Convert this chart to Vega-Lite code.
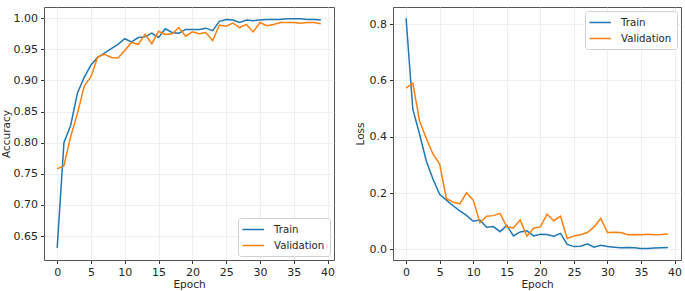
{
"$schema":"https://vega.github.io/schema/vega-lite/v6.json",
"background":"white",
"padding":{"left":0,"top":6,"right":4,"bottom":0},
"config":{
 "font":"DejaVu Sans",
 "view":{"stroke":"#555555","strokeWidth":1},
 "axis":{"domain":false,"gridColor":"#ebebeb","gridWidth":0.8,"tickColor":"#333333","tickSize":3.5,"labelFontSize":11,"labelColor":"#262626","labelPadding":3,"titleFontSize":10.5,"titleFontWeight":"normal","titleColor":"#262626","labelFont":"DejaVu Sans","titleFont":"DejaVu Sans"},
 "legend":{"labelFontSize":10.2,"labelFont":"DejaVu Sans","labelColor":"#262626","symbolType":"M-1.29,0H2.64","symbolSize":121,"symbolStrokeWidth":1.5,"strokeColor":"#d0d0d0","fillColor":"white","padding":5,"cornerRadius":3,"rowPadding":4,"labelOffset":18,"offset":4}
},
"data":{"values":[
{"epoch":0,"series":"Train","accuracy":0.631,"loss":0.821},
{"epoch":1,"series":"Train","accuracy":0.80,"loss":0.498},
{"epoch":2,"series":"Train","accuracy":0.828,"loss":0.41},
{"epoch":3,"series":"Train","accuracy":0.88,"loss":0.315},
{"epoch":4,"series":"Train","accuracy":0.905,"loss":0.25},
{"epoch":5,"series":"Train","accuracy":0.925,"loss":0.196},
{"epoch":6,"series":"Train","accuracy":0.937,"loss":0.175},
{"epoch":7,"series":"Train","accuracy":0.944,"loss":0.155},
{"epoch":8,"series":"Train","accuracy":0.951,"loss":0.137},
{"epoch":9,"series":"Train","accuracy":0.958,"loss":0.121},
{"epoch":10,"series":"Train","accuracy":0.967,"loss":0.10},
{"epoch":11,"series":"Train","accuracy":0.962,"loss":0.104},
{"epoch":12,"series":"Train","accuracy":0.969,"loss":0.079},
{"epoch":13,"series":"Train","accuracy":0.970,"loss":0.081},
{"epoch":14,"series":"Train","accuracy":0.976,"loss":0.063},
{"epoch":15,"series":"Train","accuracy":0.969,"loss":0.085},
{"epoch":16,"series":"Train","accuracy":0.983,"loss":0.048},
{"epoch":17,"series":"Train","accuracy":0.977,"loss":0.062},
{"epoch":18,"series":"Train","accuracy":0.976,"loss":0.066},
{"epoch":19,"series":"Train","accuracy":0.982,"loss":0.048},
{"epoch":20,"series":"Train","accuracy":0.982,"loss":0.054},
{"epoch":21,"series":"Train","accuracy":0.982,"loss":0.053},
{"epoch":22,"series":"Train","accuracy":0.984,"loss":0.047},
{"epoch":23,"series":"Train","accuracy":0.980,"loss":0.057},
{"epoch":24,"series":"Train","accuracy":0.995,"loss":0.018},
{"epoch":25,"series":"Train","accuracy":0.998,"loss":0.01},
{"epoch":26,"series":"Train","accuracy":0.997,"loss":0.011},
{"epoch":27,"series":"Train","accuracy":0.993,"loss":0.02},
{"epoch":28,"series":"Train","accuracy":0.997,"loss":0.008},
{"epoch":29,"series":"Train","accuracy":0.996,"loss":0.015},
{"epoch":30,"series":"Train","accuracy":0.997,"loss":0.01},
{"epoch":31,"series":"Train","accuracy":0.998,"loss":0.008},
{"epoch":32,"series":"Train","accuracy":0.998,"loss":0.006},
{"epoch":33,"series":"Train","accuracy":0.998,"loss":0.007},
{"epoch":34,"series":"Train","accuracy":0.999,"loss":0.006},
{"epoch":35,"series":"Train","accuracy":0.999,"loss":0.003},
{"epoch":36,"series":"Train","accuracy":0.999,"loss":0.003},
{"epoch":37,"series":"Train","accuracy":0.998,"loss":0.005},
{"epoch":38,"series":"Train","accuracy":0.998,"loss":0.006},
{"epoch":39,"series":"Train","accuracy":0.997,"loss":0.007},
{"epoch":0,"series":"Validation","accuracy":0.758,"loss":0.573},
{"epoch":1,"series":"Validation","accuracy":0.763,"loss":0.591},
{"epoch":2,"series":"Validation","accuracy":0.81,"loss":0.457},
{"epoch":3,"series":"Validation","accuracy":0.847,"loss":0.395},
{"epoch":4,"series":"Validation","accuracy":0.891,"loss":0.339},
{"epoch":5,"series":"Validation","accuracy":0.906,"loss":0.303},
{"epoch":6,"series":"Validation","accuracy":0.938,"loss":0.181},
{"epoch":7,"series":"Validation","accuracy":0.942,"loss":0.168},
{"epoch":8,"series":"Validation","accuracy":0.937,"loss":0.162},
{"epoch":9,"series":"Validation","accuracy":0.936,"loss":0.201},
{"epoch":10,"series":"Validation","accuracy":0.948,"loss":0.175},
{"epoch":11,"series":"Validation","accuracy":0.961,"loss":0.095},
{"epoch":12,"series":"Validation","accuracy":0.958,"loss":0.118},
{"epoch":13,"series":"Validation","accuracy":0.974,"loss":0.12},
{"epoch":14,"series":"Validation","accuracy":0.959,"loss":0.128},
{"epoch":15,"series":"Validation","accuracy":0.979,"loss":0.08},
{"epoch":16,"series":"Validation","accuracy":0.974,"loss":0.076},
{"epoch":17,"series":"Validation","accuracy":0.975,"loss":0.105},
{"epoch":18,"series":"Validation","accuracy":0.985,"loss":0.047},
{"epoch":19,"series":"Validation","accuracy":0.971,"loss":0.075},
{"epoch":20,"series":"Validation","accuracy":0.978,"loss":0.08},
{"epoch":21,"series":"Validation","accuracy":0.975,"loss":0.125},
{"epoch":22,"series":"Validation","accuracy":0.977,"loss":0.102},
{"epoch":23,"series":"Validation","accuracy":0.964,"loss":0.118},
{"epoch":24,"series":"Validation","accuracy":0.989,"loss":0.039},
{"epoch":25,"series":"Validation","accuracy":0.987,"loss":0.048},
{"epoch":26,"series":"Validation","accuracy":0.992,"loss":0.052},
{"epoch":27,"series":"Validation","accuracy":0.985,"loss":0.06},
{"epoch":28,"series":"Validation","accuracy":0.990,"loss":0.08},
{"epoch":29,"series":"Validation","accuracy":0.978,"loss":0.11},
{"epoch":30,"series":"Validation","accuracy":0.993,"loss":0.06},
{"epoch":31,"series":"Validation","accuracy":0.988,"loss":0.061},
{"epoch":32,"series":"Validation","accuracy":0.990,"loss":0.06},
{"epoch":33,"series":"Validation","accuracy":0.993,"loss":0.052},
{"epoch":34,"series":"Validation","accuracy":0.993,"loss":0.053},
{"epoch":35,"series":"Validation","accuracy":0.993,"loss":0.052},
{"epoch":36,"series":"Validation","accuracy":0.992,"loss":0.054},
{"epoch":37,"series":"Validation","accuracy":0.993,"loss":0.052},
{"epoch":38,"series":"Validation","accuracy":0.993,"loss":0.053},
{"epoch":39,"series":"Validation","accuracy":0.991,"loss":0.055}
]},
"spacing":18,
"resolve":{"legend":{"color":"independent"}},
"hconcat":[
{
 "width":290,"height":253,
 "mark":{"type":"line","strokeWidth":1.5,"clip":true},
 "encoding":{
  "x":{"field":"epoch","type":"quantitative","title":"Epoch","scale":{"domain":[-1.95,40.95],"nice":false,"zero":false},"axis":{"values":[0,5,10,15,20,25,30,35,40],"titlePadding":2}},
  "y":{"field":"accuracy","type":"quantitative","title":"Accuracy","scale":{"domain":[0.6115,1.018],"nice":false,"zero":false},"axis":{"values":[0.65,0.70,0.75,0.80,0.85,0.90,0.95,1.00],"format":".2f","titlePadding":2}},
  "color":{"field":"series","type":"nominal","scale":{"domain":["Train","Validation"],"range":["#1f77b4","#ff7f0e"]},"legend":{"title":null,"orient":"bottom-right"}}
 }
},
{
 "width":288,"height":253,
 "mark":{"type":"line","strokeWidth":1.5,"clip":true},
 "encoding":{
  "x":{"field":"epoch","type":"quantitative","title":"Epoch","scale":{"domain":[-1.95,40.95],"nice":false,"zero":false},"axis":{"values":[0,5,10,15,20,25,30,35,40],"titlePadding":2}},
  "y":{"field":"loss","type":"quantitative","title":"Loss","scale":{"domain":[-0.0376,0.861],"nice":false,"zero":false},"axis":{"values":[0,0.2,0.4,0.6,0.8],"format":".1f","titlePadding":4}},
  "color":{"field":"series","type":"nominal","scale":{"domain":["Train","Validation"],"range":["#1f77b4","#ff7f0e"]},"legend":{"title":null,"orient":"top-right"}}
 }
}
]
}
